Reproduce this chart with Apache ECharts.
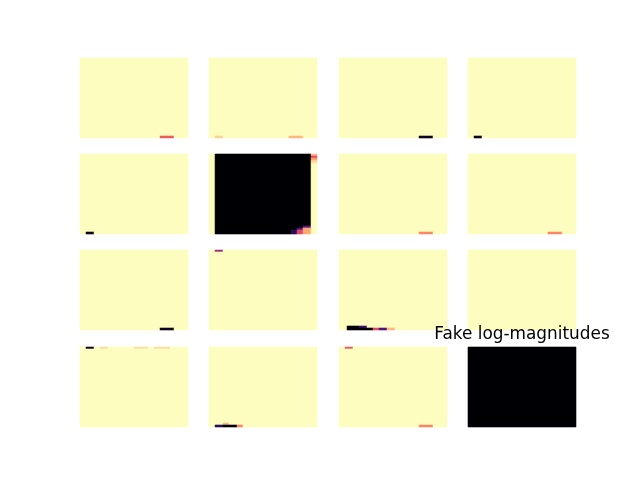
<!DOCTYPE html>
<html>
<head>
<meta charset="utf-8">
<script src="https://cdn.jsdelivr.net/npm/echarts@6/dist/echarts.min.js"></script>
<style>html,body{margin:0;padding:0;background:#fff}#c{width:640px;height:480px}</style>
</head>
<body>
<div id="c"></div>
<script>
// Image resolution of each panel
const ROWS = 40, COLS = 54;
// Background value for each of the 16 panels (row-major)
const panelBase = [1,1,1,1, 1,1,1,1, 1,1,1,1, 1,1,1,0];
// Segments: [panel, rowFrom, rowTo, colFrom, colTo, value]
const segments = [
  [0,39,39,40,46,0.65],
  [1,39,39,3,6,0.9],[1,39,39,40,46,0.85],
  [2,39,39,40,46,0.05],
  [3,39,39,3,6,0.05],
  [4,39,39,3,6,0.05],
  [5,0,39,3,50,0],
  [5,0,0,51,53,0.85],[5,1,1,51,53,0.62],[5,2,2,51,53,0.78],[5,3,3,51,53,0.9],[5,4,4,51,53,0.95],
  [5,38,39,41,43,0.15],[5,37,37,44,46,0.25],[5,38,39,44,46,0.6],[5,36,36,47,50,0.3],[5,37,39,47,50,0.82],
  [6,39,39,40,46,0.75],
  [7,39,39,40,46,0.75],
  [8,39,39,40,46,0.05],
  [9,0,0,3,6,0.45],
  [10,38,38,4,9,0],[10,38,38,10,13,0.2],[10,39,39,4,16,0],[10,39,39,17,19,0.6],[10,39,39,20,23,0.25],[10,39,39,24,27,0.85],
  [12,0,0,3,6,0.05],[12,0,0,10,13,0.93],[12,0,0,27,33,0.93],[12,0,0,37,44,0.93],
  [13,39,39,3,6,0.15],[13,38,38,7,9,0.85],[13,39,39,7,13,0],[13,39,39,14,16,0.75],
  [14,0,0,3,6,0.65],[14,39,39,40,46,0.75]
];
const magma = ['#000004','#140e36','#3b0f70','#641a80','#8c2981','#b73779','#de4968','#f7705c','#fe9f6d','#fecf92','#fcfdbf'];
const titleText = 'Fake log-magnitudes';

const gridLefts = [80, 209, 339, 468];
const gridTops = [58, 154, 250, 347];
const gridW = 108, gridH = 80;

const xCats = Array.from({length: COLS}, (_, i) => i);
const yCats = Array.from({length: ROWS}, (_, i) => i);

const grids = [], xAxes = [], yAxes = [], series = [];
for (let p = 0; p < 16; p++) {
  const r = Math.floor(p / 4), c = p % 4;
  const m = [];
  for (let y = 0; y < ROWS; y++) { m.push(new Array(COLS).fill(panelBase[p])); }
  segments.filter(s => s[0] === p).forEach(s => {
    for (let y = s[1]; y <= s[2]; y++) for (let x = s[3]; x <= s[4]; x++) m[y][x] = s[5];
  });
  const data = [];
  for (let y = 0; y < ROWS; y++) for (let x = 0; x < COLS; x++) data.push([x, y, m[y][x]]);
  grids.push({left: gridLefts[c], top: gridTops[r], width: gridW, height: gridH, containLabel: false});
  xAxes.push({type: 'category', gridIndex: p, data: xCats, show: false});
  yAxes.push({type: 'category', gridIndex: p, data: yCats, show: false, inverse: true});
  series.push({type: 'heatmap', xAxisIndex: p, yAxisIndex: p, data: data, emphasis: {disabled: true}, progressive: 0, silent: true});
}

const chart = echarts.init(document.getElementById('c'), null, {renderer: 'canvas'});
chart.setOption({
  animation: false,
  backgroundColor: '#ffffff',
  title: {
    text: titleText, left: 517, top: 321, textAlign: 'center',
    textStyle: {fontFamily: 'DejaVu Sans', fontSize: 16.9, fontWeight: 'normal', color: '#000'}
  },
  grid: grids, xAxis: xAxes, yAxis: yAxes,
  visualMap: {type: 'continuous', min: 0, max: 1, show: false, dimension: 2, inRange: {color: magma}},
  series: series
});
</script>
</body>
</html>
